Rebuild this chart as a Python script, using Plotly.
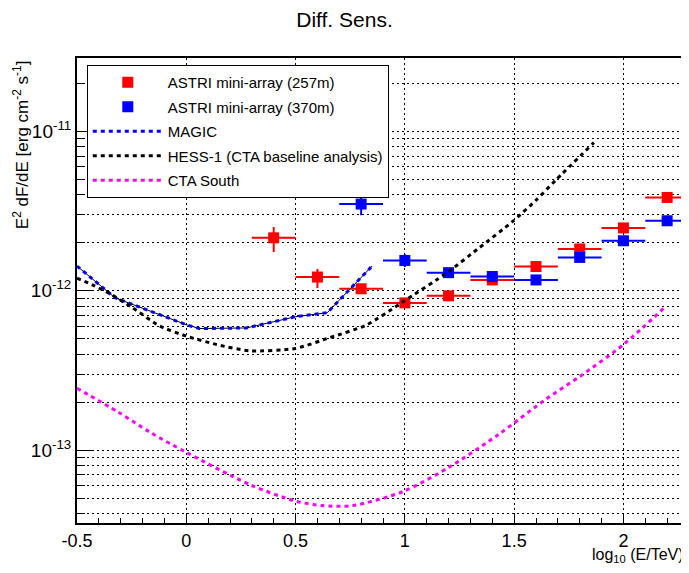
import plotly.graph_objects as go

# ---- data ----
energy_red = [0.4, 0.6, 0.8, 1.0, 1.2, 1.4, 1.6, 1.8, 2.0, 2.2]
sens_red = [2.15e-12, 1.22e-12, 1.03e-12, 8.4e-13, 9.3e-13, 1.17e-12, 1.42e-12, 1.83e-12, 2.48e-12, 3.85e-12]
err_red_up = [0.36e-12, 0.15e-12, 0.07e-12, 0.5e-13, 0.5e-13, 0.6e-13, 0.7e-13, 0.1e-12, 0.12e-12, 0.2e-12]
err_red_dn = [0.40e-12, 0.18e-12, 0.07e-12, 0.5e-13, 0.5e-13, 0.6e-13, 0.7e-13, 0.1e-12, 0.12e-12, 0.2e-12]
xerr_red = [0.1] * 10

energy_blue = [0.8, 1.0, 1.2, 1.4, 1.6, 1.8, 2.0, 2.2]
sens_blue = [3.5e-12, 1.55e-12, 1.30e-12, 1.23e-12, 1.17e-12, 1.62e-12, 2.06e-12, 2.75e-12]
err_blue_up = [0.48e-12, 0.15e-12, 0.08e-12, 0.07e-12, 0.07e-12, 0.1e-12, 0.1e-12, 0.14e-12]
err_blue_dn = [0.52e-12, 0.14e-12, 0.08e-12, 0.07e-12, 0.07e-12, 0.1e-12, 0.1e-12, 0.14e-12]
xerr_blue = [0.1] * 8

magic_x = [-0.5, -0.326, 0.0, 0.06, 0.275, 0.5, 0.645, 0.85]
magic_y = [1.43e-12, 9.04e-13, 6.13e-13, 5.8e-13, 5.85e-13, 6.88e-13, 7.29e-13, 1.43e-12]

hess_x = [-0.5, -0.43, -0.35, -0.25, -0.12, 0.0, 0.14, 0.29, 0.5, 0.655, 0.824, 0.99,
          1.2, 1.34, 1.49, 1.6, 1.69, 1.865]
hess_y = [1.2e-12, 1.09e-12, 9.6e-13, 7.9e-13, 6.0e-13, 5.2e-13, 4.6e-13, 4.2e-13, 4.35e-13,
          5.08e-13, 6.1e-13, 8.5e-13, 1.32e-12, 1.86e-12, 2.7e-12, 3.7e-12, 4.94e-12, 8.5e-12]

cta_x = [-0.5, -0.31, -0.167, 0.0, 0.29, 0.5, 0.62, 0.76, 0.99, 1.2, 1.43, 1.645, 1.8, 2.0, 2.19]
cta_y = [2.45e-13, 1.73e-13, 1.3e-13, 9.7e-14, 6.1e-14, 4.8e-14, 4.5e-14, 4.5e-14, 5.5e-14,
         7.8e-14, 1.26e-13, 2.09e-13, 2.9e-13, 4.6e-13, 7.9e-13]

y_major = [1e-13, 1e-12, 1e-11]
y_major_text = ["10<sup>-13</sup>", "10<sup>-12</sup>", "10<sup>-11</sup>"]
y_minor = [m * 10.0 ** e for e in (-14, -13, -12, -11) for m in range(2, 10)]

FONT = "Liberation Sans, Arial, sans-serif"

fig = go.Figure()

fig.add_trace(go.Scatter(
    x=energy_red, y=sens_red, mode="markers", name="ASTRI mini-array (257m)",
    marker=dict(symbol="square", size=11, color="#ff0000"),
    error_y=dict(type="data", symmetric=False, array=err_red_up, arrayminus=err_red_dn,
                 color="#ff0000", thickness=2, width=0),
    error_x=dict(type="data", array=xerr_red, color="#ff0000", thickness=2, width=0),
    legendgroup="a"))
fig.add_trace(go.Scatter(
    x=energy_blue, y=sens_blue, mode="markers", name="ASTRI mini-array (370m)",
    marker=dict(symbol="square", size=11, color="#0000ff"),
    error_y=dict(type="data", symmetric=False, array=err_blue_up, arrayminus=err_blue_dn,
                 color="#0000ff", thickness=2, width=0),
    error_x=dict(type="data", array=xerr_blue, color="#0000ff", thickness=2, width=0),
    legendgroup="b"))
fig.add_trace(go.Scatter(
    x=magic_x, y=magic_y, mode="lines", showlegend=False,
    line=dict(color="black", width=1), legendgroup="c"))
fig.add_trace(go.Scatter(
    x=magic_x, y=magic_y, mode="lines", name="MAGIC",
    line=dict(color="#0000ff", width=3, dash="4px,4px"), legendgroup="c"))
fig.add_trace(go.Scatter(
    x=hess_x, y=hess_y, mode="lines", name="HESS-1 (CTA baseline analysis)",
    line=dict(color="black", width=3, dash="4px,4px", shape="spline", smoothing=0.6),
    legendgroup="d"))
fig.add_trace(go.Scatter(
    x=cta_x, y=cta_y, mode="lines", name="CTA South",
    line=dict(color="#ff00ff", width=3, dash="4px,4px", shape="spline", smoothing=0.8),
    legendgroup="e"))

# page body adds an 8px offset; figure sized/margined to compensate
fig.update_layout(
    width=681, height=565,
    margin=dict(l=69, r=0, t=50, b=50, autoexpand=False),
    paper_bgcolor="white", plot_bgcolor="white",
    font=dict(family=FONT, color="black"),
    title=dict(text="Diff. Sens.", xref="container", x=336.5 / 681, xanchor="center",
               yref="container", y=1 - 12 / 565, yanchor="middle",
               font=dict(size=21, family=FONT)),
    legend=dict(x=0.016, y=0.985, xanchor="left", yanchor="top",
                bgcolor="white", bordercolor="black", borderwidth=1,
                font=dict(size=15, family=FONT), itemwidth=70, tracegroupgap=2),
)

fig.update_xaxes(
    range=[-0.5, 2.3], showline=True, linecolor="black", linewidth=2, mirror=True,
    automargin=False,
    tickmode="array", tickvals=[-0.5, 0, 0.5, 1, 1.5, 2],
    ticktext=["-0.5", "0", "0.5", "1", "1.5", "2"],
    ticks="inside", ticklen=10, tickcolor="black", tickwidth=1,
    tickfont=dict(size=18, family=FONT),
    showgrid=True, gridcolor="black", gridwidth=1, griddash="2px,3px",
    minor=dict(dtick=0.1, tick0=0, ticks="inside", ticklen=5, tickcolor="black", showgrid=False),
    zeroline=False,
)
fig.update_yaxes(
    type="log", range=[-13.456, -10.54], showline=True, linecolor="black", linewidth=2,
    mirror=False, automargin=False,
    tickmode="array", tickvals=y_major, ticktext=y_major_text,
    ticks="inside", ticklen=16, tickcolor="black", tickwidth=1,
    tickfont=dict(size=19, family=FONT),
    showgrid=True, gridcolor="black", gridwidth=1, griddash="2px,3px",
    minor=dict(tickmode="array", tickvals=y_minor, ticks="inside", ticklen=8,
               tickcolor="black", showgrid=True, gridcolor="black", gridwidth=1,
               griddash="2px,3px"),
    zeroline=False,
)

fig.add_annotation(text="log<sub>10</sub> (E/TeV)", xref="paper", yref="paper",
                   x=0.995, y=-0.069, xanchor="right", yanchor="middle", showarrow=False,
                   font=dict(size=16, family=FONT))
fig.add_annotation(text="E<sup>2</sup> dF/dE [erg cm<sup>-2</sup> s<sup>-1</sup>]",
                   xref="paper", yref="paper", x=-0.092, y=1.0, xanchor="center",
                   yanchor="top", textangle=-90, showarrow=False,
                   font=dict(size=17, family=FONT))

fig.write_html("out.html")
